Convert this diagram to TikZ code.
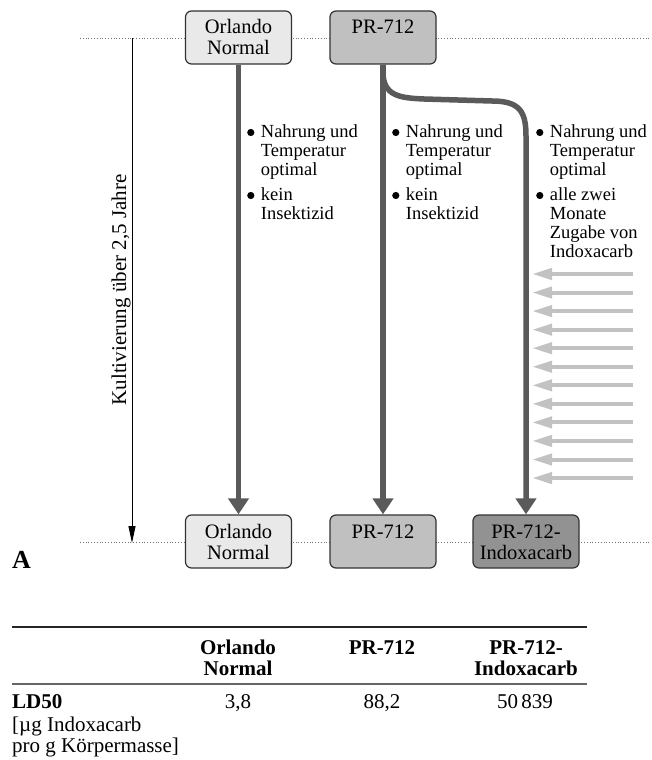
\documentclass[tikz,border=0pt]{standalone}
\usepackage{fontspec}
\setmainfont{Liberation Serif}
\usetikzlibrary{arrows.meta}
\definecolor{darkline}{HTML}{5A5A5A}
\definecolor{lightbox}{HTML}{E9E9E9}
\definecolor{midbox}{HTML}{C0C0C0}
\definecolor{darkbox}{HTML}{929292}
\definecolor{lightarrow}{HTML}{C2C2C2}
\definecolor{boxedge}{HTML}{333333}
\newcommand{\boxfont}{\fontsize{20.5}{21}\selectfont}
\newcommand{\bulfont}{\fontsize{18.5}{19}\selectfont}
\newcommand{\tabfont}{\fontsize{21}{21}\selectfont}
\newcommand{\bigdot}{\tikz[baseline=-5pt]\fill (0,0) circle (3.6pt);}
\tikzset{
  strainbox/.style={draw=boxedge, line width=1.2pt, rounded corners=6pt,
    minimum width=106pt, minimum height=53pt, inner sep=0pt},
  boxlabel/.style={anchor=base, inner sep=0pt, font=\boxfont},
  bullist/.style={anchor=base west, inner sep=0pt, font=\bulfont},
  thickarrow/.style={draw=darkline, line width=5.5pt,
    -{Triangle[length=16pt,width=20pt]}},
  feedarrow/.style={draw=lightarrow, line width=4pt,
    -{Triangle[length=20pt,width=11pt]}},
  guide/.style={draw=black!55, line width=0.8pt, dotted},
  tabtext/.style={inner sep=0pt, font=\tabfont},
}
\begin{document}
\begin{tikzpicture}[x=1pt,y=-1pt]
\useasboundingbox (0,0) rectangle (651,760);
% dotted guides
\coordinate (gl1) at (80,38);
\coordinate (gr1) at (651,38);
\coordinate (gl2) at (80,542);
\coordinate (gr2) at (651,542);
\draw[guide] (gl1) -- (gr1);
\draw[guide] (gl2) -- (gr2);
% time axis
\coordinate (ts) at (132,38);
\coordinate (te) at (132,543);
\draw[line width=1pt, -{Triangle[length=17pt,width=7pt]}] (ts) -- (te);
\node[rotate=90, inner sep=0pt, font=\fontsize{21}{21}\selectfont] (tl) at (121,290) {Kultivierung über 2,5 Jahre};
% boxes top
\node[strainbox, fill=lightbox] (o1) at (238.5,37.5) {};
\node[strainbox, fill=midbox] (p1) at (383,37.5) {};
% boxes bottom
\node[strainbox, fill=lightbox] (o2) at (238.5,541.5) {};
\node[strainbox, fill=midbox] (p2) at (383,541.5) {};
\node[strainbox, fill=darkbox] (i2) at (526,541.5) {};
\node[boxlabel] (o1t) at (238.5,34) {\begin{tabular}[t]{@{}c@{}}Orlando\\Normal\end{tabular}};
\node[boxlabel] (p1t) at (383,34) {PR-712};
\node[boxlabel] (o2t) at (238.5,538) {\begin{tabular}[t]{@{}c@{}}Orlando\\Normal\end{tabular}};
\node[boxlabel] (p2t) at (383,538) {PR-712};
\node[boxlabel] (i2t) at (526,538) {\begin{tabular}[t]{@{}c@{}}PR-712-\\Indoxacarb\end{tabular}};
% thick arrows
\coordinate (c1) at (383,72);
\coordinate (c2) at (424,99);
\coordinate (c3) at (492,101);
\coordinate (c4) at (526,136);
\draw[thickarrow] (o1.south) -- (o2.north);
\draw[thickarrow] (p1.south) -- (p2.north);
\draw[thickarrow] (p1.south) -- (c1) .. controls (383,96) and (400,98) .. (c2)
  -- (c3) .. controls (520,101) and (526,112) .. (c4) -- (i2.north);
% bullet lists
\node[bullist] (l1) at (247,137.5) {\begin{tabular}[t]{@{}l@{\hspace{6.5pt}}l@{}}
\bigdot & Nahrung und\\ & Temperatur\\ & optimal\\[6pt]
\bigdot & kein\\ & Insektizid\end{tabular}};
\node[bullist] (l2) at (392,137.5) {\begin{tabular}[t]{@{}l@{\hspace{6.5pt}}l@{}}
\bigdot & Nahrung und\\ & Temperatur\\ & optimal\\[6pt]
\bigdot & kein\\ & Insektizid\end{tabular}};
\node[bullist] (l3) at (536,137.5) {\begin{tabular}[t]{@{}l@{\hspace{6.5pt}}l@{}}
\bigdot & Nahrung und\\ & Temperatur\\ & optimal\\[6pt]
\bigdot & alle zwei\\ & Monate\\ & Zugabe von\\ & Indoxacarb\end{tabular}};
% feeding arrows
\foreach \i in {0,...,11}{
  \coordinate (fs\i) at (633,274+18.55*\i);
  \coordinate (fe\i) at (532,274+18.55*\i);
  \draw[feedarrow] (fs\i) -- (fe\i);
}
% panel label
\node[anchor=base west, inner sep=0pt, font=\fontsize{26}{26}\selectfont\bfseries] (A) at (12,568) {A};
% table
\coordinate (r1l) at (12,627);
\coordinate (r1r) at (587,627);
\coordinate (r2l) at (12,684);
\coordinate (r2r) at (587,684);
\draw[line width=1.6pt, black!85] (r1l) -- (r1r);
\draw[line width=1.4pt, black!60] (r2l) -- (r2r);
\node[tabtext, anchor=base] (h1) at (238,654) {\bfseries\begin{tabular}[t]{@{}c@{}}Orlando\\Normal\end{tabular}};
\node[tabtext, anchor=base] (h2) at (382,654) {\bfseries PR-712};
\node[tabtext, anchor=base] (h3) at (526,654) {\bfseries\begin{tabular}[t]{@{}c@{}}PR-712-\\Indoxacarb\end{tabular}};
\node[tabtext, anchor=base west] (rl1) at (12,708) {\bfseries LD50};
\node[tabtext, anchor=base west] (rl2) at (12,731) {[µg Indoxacarb};
\node[tabtext, anchor=base west] (rl3) at (12,752) {pro g Körpermasse]};
\node[tabtext, anchor=base] (v1) at (238,708) {3,8};
\node[tabtext, anchor=base] (v2) at (382,708) {88,2};
\node[tabtext, anchor=base] (v3) at (525,708) {50\,839};
\end{tikzpicture}
\end{document}
